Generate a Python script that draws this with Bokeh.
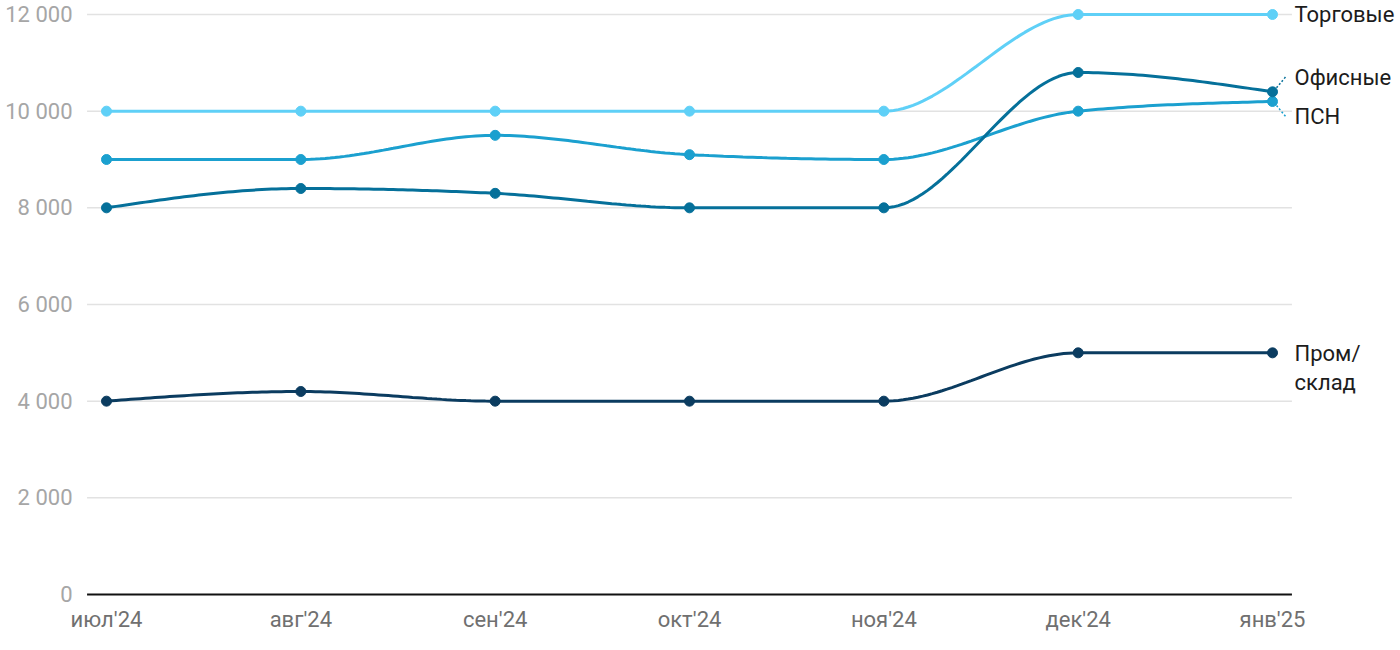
import numpy as np
from bokeh.plotting import figure
from bokeh.models import ColumnDataSource, FixedTicker, Range1d
from bokeh.core.properties import value
from bokeh.embed import file_html
from bokeh.resources import INLINE

# ---- data ----
months = ["июл'24", "авг'24", "сен'24", "окт'24", "ноя'24", "дек'24", "янв'25"]
trade = [10000, 10000, 10000, 10000, 10000, 12000, 12000]      # Торговые
psn = [9000, 9000, 9500, 9100, 9000, 10000, 10200]              # ПСН
office = [8000, 8400, 8300, 8000, 8000, 10800, 10400]           # Офисные
indus = [4000, 4200, 4000, 4000, 4000, 5000, 5000]              # Пром/склад
y_ticks = [0, 2000, 4000, 6000, 8000, 10000, 12000]
y_tick_labels = ["0", "2 000", "4 000", "6 000", "8 000", "10 000", "12 000"]

series = [
    ("Торговые", trade, "#5fd0f7"),
    ("ПСН", psn, "#1ba0cf"),
    ("Офисные", office, "#05709a"),
    ("Пром/\nсклад", indus, "#0b3c60"),
]

FONT = "Roboto"


def monotone_x(xs, ys, n=40):
    """d3 curveMonotoneX rendering of a series."""
    xs = np.asarray(xs, float)
    ys = np.asarray(ys, float)
    m = len(xs)
    t = np.zeros(m)
    for i in range(1, m - 1):
        h0 = xs[i] - xs[i - 1]
        h1 = xs[i + 1] - xs[i]
        s0 = (ys[i] - ys[i - 1]) / h0
        s1 = (ys[i + 1] - ys[i]) / h1
        p = (s0 * h1 + s1 * h0) / (h0 + h1)
        t[i] = (np.sign(s0) + np.sign(s1)) * min(abs(s0), abs(s1), 0.5 * abs(p))
    h = xs[1] - xs[0]
    t[0] = (3 * (ys[1] - ys[0]) / h - t[1]) / 2
    h = xs[-1] - xs[-2]
    t[-1] = (3 * (ys[-1] - ys[-2]) / h - t[-2]) / 2
    px, py = [], []
    for i in range(m - 1):
        x0, x1 = xs[i], xs[i + 1]
        dx = (x1 - x0) / 3
        P0 = (x0, ys[i])
        P1 = (x0 + dx, ys[i] + dx * t[i])
        P2 = (x1 - dx, ys[i + 1] - dx * t[i + 1])
        P3 = (x1, ys[i + 1])
        u = np.linspace(0, 1, n, endpoint=(i == m - 2))
        a = (1 - u) ** 3
        b = 3 * (1 - u) ** 2 * u
        c = 3 * (1 - u) * u ** 2
        d = u ** 3
        px.extend(a * P0[0] + b * P1[0] + c * P2[0] + d * P3[0])
        py.extend(a * P0[1] + b * P1[1] + c * P2[1] + d * P3[1])
    return px, py


ML, MB = 86, 44
FW, FH = 1312, 596
px_per_x = (1272 - 106) / 6
x0 = -20 / px_per_x
x1 = x0 + FW / px_per_x
unit_per_px_y = 12000 / 580
y0 = -(FH - 594) * unit_per_px_y
y1 = 12000 + 14 * unit_per_px_y

p = figure(frame_width=FW, frame_height=FH, output_backend="svg", toolbar_location=None,
           x_range=Range1d(x0, x1), y_range=Range1d(y0, y1),
           min_border_left=ML, min_border_right=0, min_border_top=0,
           min_border_bottom=MB)
p.outline_line_color = None
p.background_fill_color = "white"
p.border_fill_color = "white"
p.xgrid.visible = False
p.ygrid.visible = False

xi = list(range(len(months)))
gx0, gx1 = -0.1, 6.1

# gridlines
p.segment(x0=[gx0] * (len(y_ticks) - 1), x1=[gx1] * (len(y_ticks) - 1),
          y0=y_ticks[1:], y1=y_ticks[1:], line_color="#e2e2e2", line_width=1.5)
# baseline
p.segment(x0=[gx0], x1=[gx1], y0=[0], y1=[0], line_color="#111111", line_width=2)

# axes
p.yaxis.ticker = FixedTicker(ticks=y_ticks)
p.yaxis.major_label_overrides = {t: l for t, l in zip(y_ticks, y_tick_labels)}
p.yaxis.axis_line_color = None
p.yaxis.major_tick_line_color = None
p.yaxis.minor_tick_line_color = None
p.yaxis.major_label_standoff = 8
p.yaxis.major_label_text_font = FONT
p.yaxis.major_label_text_font_size = "22px"
p.yaxis.major_label_text_color = "#a6a6a6"

p.xaxis.ticker = FixedTicker(ticks=xi)
p.xaxis.major_label_overrides = {i: m for i, m in enumerate(months)}
p.xaxis.axis_line_color = None
p.xaxis.major_tick_line_color = None
p.xaxis.minor_tick_line_color = None
p.xaxis.major_label_standoff = 4
p.xaxis.major_label_text_font = FONT
p.xaxis.major_label_text_font_size = "22px"
p.xaxis.major_label_text_color = "#707070"

for name, ys, col in series:
    cx, cy = monotone_x(xi, ys)
    p.line(cx, cy, line_color=col, line_width=3)
    p.scatter(xi, ys, size=10, fill_color=col, line_color=col)

# end labels
label_dy = {"Торговые": 0, "ПСН": 15, "Офисные": -14, "Пром/\nсклад": -12}
lab_src = ColumnDataSource(dict(
    x=[xi[-1]] * len(series),
    y=[s[1][-1] for s in series],
    text=[s[0] for s in series],
    yo=[label_dy[s[0]] for s in series],
    base=["middle", "middle", "middle", "top"],
))
p.text(x="x", y="y", text="text", source=lab_src, x_offset=22, y_offset="yo",
       text_baseline="base", text_align="left", text_font=value(FONT),
       text_font_size="22px", text_color="#1c1c1c", text_line_height=1.15)

# dotted leaders for the close labels
ux = 1 / px_per_x
uy = unit_per_px_y
p.segment(x0=[xi[-1] + 4 * ux], y0=[office[-1] + 4 * uy],
          x1=[xi[-1] + 14 * ux], y1=[office[-1] + 16 * uy],
          line_color="#05709a", line_width=1.5, line_dash="2 2")
p.segment(x0=[xi[-1] + 4 * ux], y0=[psn[-1] - 4 * uy],
          x1=[xi[-1] + 14 * ux], y1=[psn[-1] - 16 * uy],
          line_color="#1ba0cf", line_width=1.5, line_dash="2 2")

open("out.html", "w").write(file_html(p, INLINE))
